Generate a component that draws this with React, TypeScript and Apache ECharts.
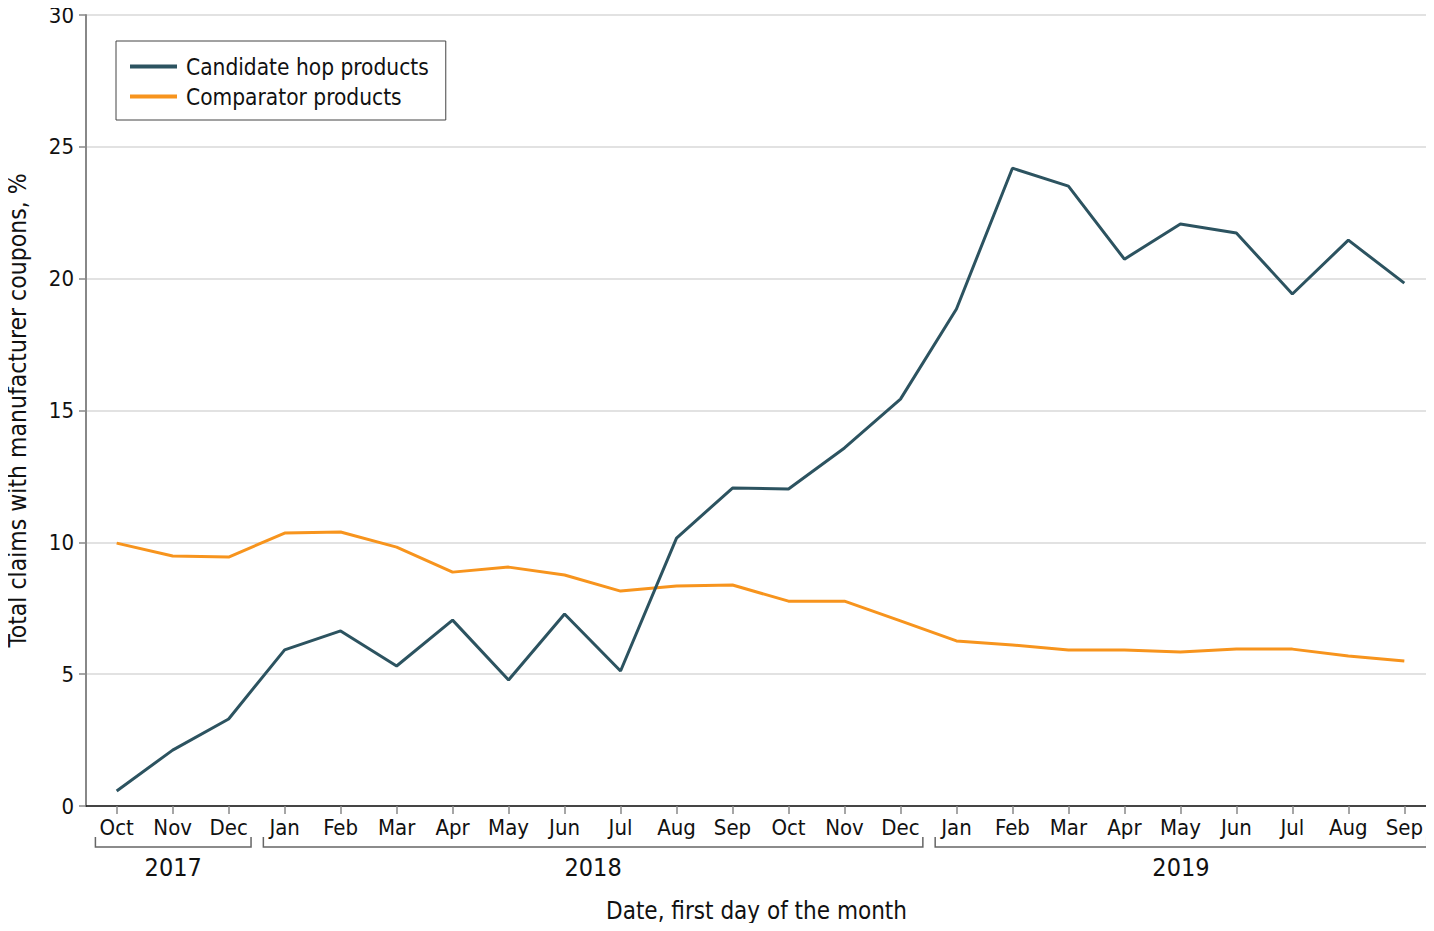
import React, { useEffect, useRef } from 'react';
import * as echarts from 'echarts';

// month labels, Oct 2017 .. Sep 2019
const months = [
    'Oct', 'Nov', 'Dec',
    'Jan', 'Feb', 'Mar', 'Apr', 'May', 'Jun', 'Jul', 'Aug', 'Sep', 'Oct', 'Nov', 'Dec',
    'Jan', 'Feb', 'Mar', 'Apr', 'May', 'Jun', 'Jul', 'Aug', 'Sep',
];

const hopProducts = [
    0.57, 2.12, 3.3,
    5.92, 6.64, 5.31, 7.05, 4.78, 7.28, 5.12, 10.16, 12.06, 12.02, 13.58, 15.43,
    18.85, 24.19, 23.51, 20.74, 22.07, 21.73, 19.42, 21.46, 19.83,
];

const comparatorProducts = [
    9.97, 9.48, 9.44,
    10.35, 10.39, 9.82, 8.87, 9.06, 8.76, 8.15, 8.34, 8.38, 7.77, 7.77, 7.02,
    6.26, 6.11, 5.92, 5.92, 5.84, 5.95, 5.95, 5.69, 5.5,
];

// year groups: first and last month index
const years = [
    { label: '2017', from: 0, to: 2 },
    { label: '2018', from: 3, to: 14 },
    { label: '2019', from: 15, to: 23 },
];

const FONT = '"DejaVu Sans Condensed", "DejaVu Sans", sans-serif';
const TEAL = '#2c5360';
const ORANGE = '#f7941d';

const App = () => {
    const chartRef = useRef<HTMLDivElement>(null);

    useEffect(() => {
        if (!chartRef.current) return;
        const myChart = echarts.init(chartRef.current, null, { renderer: 'svg' });

        const idx = months.map((_, i) => i);

        const option: any = {
            animation: false,
            textStyle: { fontFamily: FONT },
            grid: { left: 86, right: 7, top: 15, bottom: 125, containLabel: false, outerBoundsMode: 'none' },
            legend: {
                orient: 'vertical',
                left: 116,
                top: 41,
                padding: [14, 17, 12, 14],
                borderColor: '#444',
                borderWidth: 1,
                backgroundColor: '#fff',
                icon: 'rect',
                itemWidth: 47,
                itemHeight: 4,
                itemGap: 7,
                textStyle: { fontFamily: FONT, fontSize: 22.5, color: '#111', lineHeight: 22, padding: [0, 0, 0, 4] },
                data: ['Candidate hop products', 'Comparator products'],
            },
            xAxis: {
                type: 'value',
                min: -0.548,
                max: 23.405,
                name: 'Date, first day of the month',
                nameLocation: 'middle',
                nameGap: 93,
                nameTextStyle: { fontFamily: FONT, fontSize: 24, color: '#111' },
                axisLine: { show: true, onZero: false, lineStyle: { color: '#111', width: 1.5 } },
                axisTick: { show: true, customValues: idx, length: 8, lineStyle: { color: '#888', width: 1.5 } },
                axisLabel: {
                    customValues: idx,
                    formatter: (v: number) => months[Math.round(v)] ?? '',
                    margin: 10,
                    fontFamily: FONT,
                    fontSize: 22,
                    color: '#111',
                },
                splitLine: { show: false },
            },
            yAxis: {
                type: 'value',
                min: 0,
                max: 30,
                interval: 5,
                name: 'Total claims with manufacturer coupons, %',
                nameLocation: 'middle',
                nameGap: 56,
                nameTextStyle: { fontFamily: FONT, fontSize: 24.5, color: '#111' },
                axisLine: { show: true, onZero: false, lineStyle: { color: '#888', width: 2 } },
                axisTick: { show: true, length: 7, lineStyle: { color: '#888', width: 1.5 } },
                axisLabel: { margin: 12, fontFamily: FONT, fontSize: 22, color: '#111' },
                splitLine: { show: true, lineStyle: { color: '#e2e2e2', width: 2 } },
            },
            series: [
                {
                    name: 'Candidate hop products',
                    type: 'line',
                    data: hopProducts.map((v, i) => [i, v]),
                    showSymbol: false,
                    color: TEAL,
                    lineStyle: { color: TEAL, width: 3 },
                    z: 3,
                },
                {
                    name: 'Comparator products',
                    type: 'line',
                    data: comparatorProducts.map((v, i) => [i, v]),
                    showSymbol: false,
                    color: ORANGE,
                    lineStyle: { color: ORANGE, width: 3 },
                    z: 2,
                },
            ],
        };

        myChart.setOption(option);

        // year brackets under the month labels
        const baseY = myChart.convertToPixel({ gridIndex: 0 }, [0, 0])[1];
        const bracketY = baseY + 41;
        const graphics: any[] = [];
        years.forEach((yr) => {
            const x1 = myChart.convertToPixel({ gridIndex: 0 }, [yr.from - 0.38, 0])[0];
            const x2 = myChart.convertToPixel({ gridIndex: 0 }, [yr.to + 0.4, 0])[0];
            graphics.push({
                type: 'polyline',
                shape: { points: [[x1, bracketY - 10], [x1, bracketY], [x2, bracketY], [x2, bracketY - 10]] },
                style: { stroke: '#666', lineWidth: 1.5, fill: null },
                silent: true,
            });
            graphics.push({
                type: 'text',
                x: (x1 + x2) / 2,
                y: bracketY + 20,
                style: {
                    text: yr.label,
                    fontFamily: FONT,
                    fontSize: 25,
                    fill: '#111',
                    align: 'center',
                    verticalAlign: 'middle',
                },
                silent: true,
            });
        });
        myChart.setOption({ graphic: graphics });

        return () => {
            myChart.dispose();
        };
    }, []);

    return <div ref={chartRef} style={{ width: 1434, height: 931, margin: -8 }}></div>;
};

export default App;
